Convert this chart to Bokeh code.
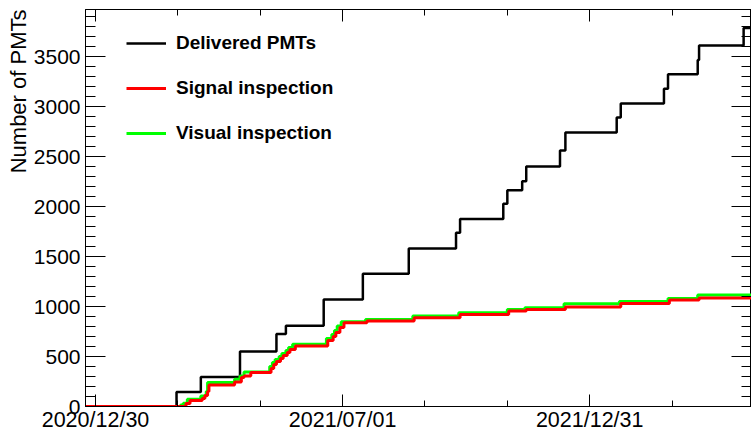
import pandas as pd
from bokeh.plotting import figure
from bokeh.models import (LinearAxis, FixedTicker, CustomJSTickFormatter, Range1d,
                          Legend, LegendItem, Title)
from bokeh.embed import file_html
from bokeh.resources import INLINE

# ---------------- data ----------------
delivered_dates = ["2020-12-01", "2021-02-28", "2021-03-18", "2021-04-16", "2021-05-13",
                   "2021-05-20", "2021-06-17", "2021-07-16", "2021-08-19", "2021-09-23",
                   "2021-09-26", "2021-10-28", "2021-10-31", "2021-11-11", "2021-11-14",
                   "2021-12-09", "2021-12-13", "2022-01-20", "2022-01-23", "2022-02-24",
                   "2022-02-27", "2022-03-21", "2022-03-22", "2022-04-24", "2022-05-31"]
delivered_counts = [0, 146, 295, 549, 724, 808, 1071, 1327, 1580, 1737, 1876, 2027, 2162,
                    2252, 2401, 2561, 2741, 2890, 3030, 3177, 3323, 3466, 3609, 3785, 3785]

signal_dates = ["2020-12-01", "2021-03-07", "2021-03-10", "2021-03-19", "2021-03-21",
                "2021-03-23", "2021-03-24", "2021-04-12", "2021-04-17", "2021-04-19",
                "2021-04-24", "2021-05-09", "2021-05-11", "2021-05-13", "2021-05-16",
                "2021-05-18", "2021-05-21", "2021-05-23", "2021-05-27", "2021-06-20",
                "2021-06-24", "2021-06-26", "2021-06-29", "2021-07-02", "2021-07-19",
                "2021-08-23", "2021-09-26", "2021-11-01", "2021-11-14", "2021-12-13",
                "2022-01-23", "2022-02-28", "2022-03-22", "2022-05-31"]
signal_counts = [0, 30, 60, 80, 110, 150, 215, 245, 290, 305, 340, 380, 420, 450, 480, 510,
                 540, 570, 605, 660, 700, 740, 790, 838, 854, 888, 921, 954, 971, 994, 1031,
                 1064, 1084, 1084]

visual_dates = ["2020-12-01", "2021-03-03", "2021-03-05", "2021-03-08", "2021-03-18",
                "2021-03-22", "2021-03-23", "2021-04-12", "2021-04-16", "2021-04-19",
                "2021-05-08", "2021-05-10", "2021-05-12", "2021-05-15", "2021-05-17",
                "2021-05-20", "2021-05-22", "2021-05-25", "2021-06-19", "2021-06-23",
                "2021-06-25", "2021-06-27", "2021-06-30", "2021-07-18", "2021-08-22",
                "2021-09-25", "2021-10-31", "2021-11-13", "2021-12-12", "2022-01-22",
                "2022-02-27", "2022-03-21", "2022-05-31"]
visual_counts = [0, 15, 33, 73, 106, 150, 240, 272, 305, 345, 400, 440, 470, 500, 530, 560,
                 590, 622, 680, 720, 760, 805, 848, 871, 904, 938, 971, 988, 1028, 1051,
                 1081, 1114, 1114]

x_major_dates = ["2020-12-30", "2021-07-01", "2021-12-31"]
x_minor_dates = ["2021-03-01", "2021-05-01", "2021-08-31", "2021-10-31", "2022-03-02"]
x_view = ["2020-12-22 14:00", "2022-04-29 20:00"]
y_major = [0, 500, 1000, 1500, 2000, 2500, 3000, 3500]
y_minor = list(range(0, 4000, 100))
y_view = [0, 3970]

labels = ["Delivered PMTs", "Signal inspection", "Visual inspection"]
colors = ["black", "#ff0000", "#00ff00"]
y_title = "Number of PMTs"


def to_ms(dates):
    return ((pd.to_datetime(dates) - pd.Timestamp("1970-01-01"))
            // pd.Timedelta(milliseconds=1)).tolist()


FONT = "Liberation Sans"

p = figure(width=751, height=434, output_backend="svg", toolbar_location=None,
           x_axis_type=None, y_axis_type=None,
           x_range=Range1d(*to_ms(x_view)), y_range=Range1d(*y_view),
           min_border_left=85, min_border_right=0, min_border_top=9, min_border_bottom=26)
p.xgrid.visible = False
p.ygrid.visible = False
p.outline_line_color = "black"
p.outline_line_width = 1
p.background_fill_color = "white"
p.border_fill_color = "white"

date_fmt = CustomJSTickFormatter(code="""
const d = new Date(tick);
const m = String(d.getUTCMonth() + 1).padStart(2, '0');
const dd = String(d.getUTCDate()).padStart(2, '0');
return d.getUTCFullYear() + '/' + m + '/' + dd;
""")
blank_fmt = CustomJSTickFormatter(code="return '';")

xticker = FixedTicker(ticks=to_ms(x_major_dates), minor_ticks=to_ms(x_minor_dates))
yticker = FixedTicker(ticks=y_major, minor_ticks=y_minor)


def style(ax, major_in, minor_in, labelled, standoff=0, size="21px"):
    ax.axis_line_color = "black"
    ax.major_tick_line_color = "black"
    ax.minor_tick_line_color = "black"
    ax.major_tick_in = major_in
    ax.major_tick_out = 0
    ax.minor_tick_in = minor_in
    ax.minor_tick_out = 0
    if labelled:
        ax.major_label_text_font = FONT
        ax.major_label_text_font_size = size
        ax.major_label_text_color = "black"
        ax.major_label_standoff = standoff
    else:
        ax.major_label_text_font_size = "0px"
        ax.major_label_standoff = 0


bottom = LinearAxis(ticker=xticker, formatter=date_fmt)
style(bottom, 12, 6, True, 1, "21.5px")
top = LinearAxis(ticker=xticker, formatter=blank_fmt)
style(top, 12, 6, False)
left = LinearAxis(ticker=yticker)
style(left, 20, 10, True, 5, "21px")
right = LinearAxis(ticker=yticker, formatter=blank_fmt)
style(right, 20, 10, False)

p.add_layout(bottom, "below")
p.add_layout(top, "above")
p.add_layout(left, "left")
p.add_layout(right, "right")

p.add_layout(Title(text=y_title, align="right", text_font=FONT, text_font_size="22px",
                   text_font_style="normal", text_color="black", standoff=0), "left")

r_del = p.step(x=to_ms(delivered_dates), y=delivered_counts, mode="after",
               line_color=colors[0], line_width=2.5)
r_vis = p.step(x=to_ms(visual_dates), y=visual_counts, mode="after",
               line_color=colors[2], line_width=3)
r_sig = p.step(x=to_ms(signal_dates), y=signal_counts, mode="after",
               line_color=colors[1], line_width=3)

legend = Legend(items=[LegendItem(label=labels[0], renderers=[r_del]),
                       LegendItem(label=labels[1], renderers=[r_sig]),
                       LegendItem(label=labels[2], renderers=[r_vis])],
                location=(41, 261), padding=0, spacing=21,
                glyph_width=40, glyph_height=24, label_height=24, label_standoff=10,
                label_text_font=FONT, label_text_font_size="19px",
                label_text_font_style="bold", label_text_color="black",
                border_line_alpha=0, background_fill_alpha=0)
p.add_layout(legend)

open("out.html", "w").write(file_html(p, INLINE))
